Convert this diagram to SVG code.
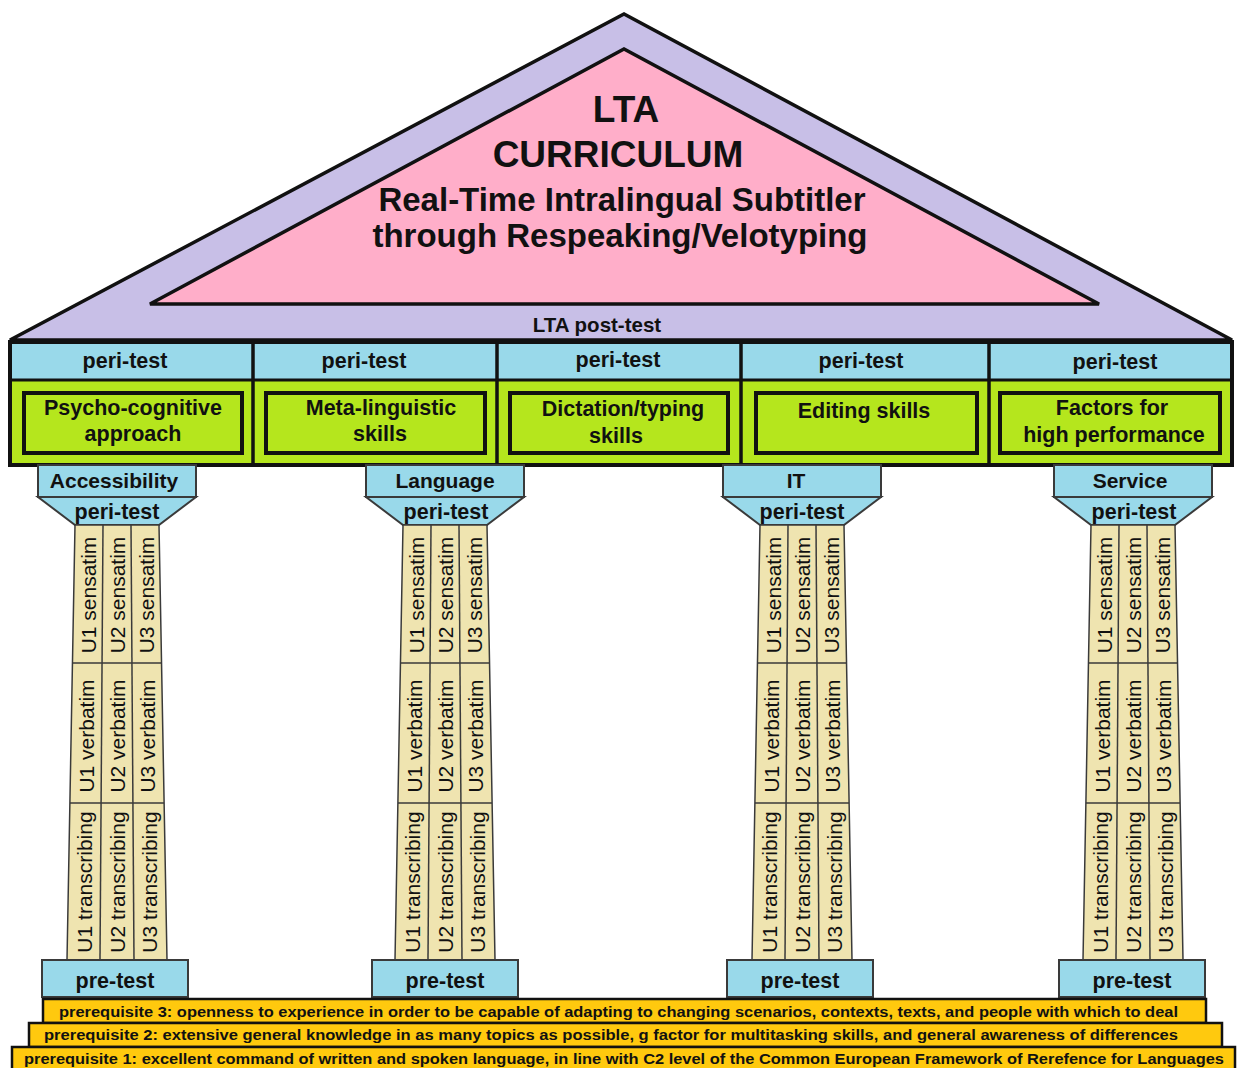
<svg xmlns="http://www.w3.org/2000/svg" width="1237" height="1068" viewBox="0 0 1237 1068">
<style>
.t{font-family:"Liberation Sans",Arial,sans-serif;fill:#111}
.b{font-weight:bold}
.mid{text-anchor:middle}
.blue{fill:#99D9EA}
.green{fill:#B5E61D}
.cream{fill:#EFE4B0;stroke:#3a3a3a;stroke-width:1.5}
.cap{fill:#99D9EA;stroke:#3a3a3a;stroke-width:2}
.gold{fill:#FFC90E;stroke:#111;stroke-width:2.5}
.div{stroke:#3a3a3a;stroke-width:1.5;fill:none}
.vt{font-family:"Liberation Sans",Arial,sans-serif;font-size:21px;fill:#111;text-anchor:middle}
.box{fill:none;stroke:#111;stroke-width:4}
</style>
<rect width="1237" height="1068" fill="#fff"/>

<g id="roof">
  <polygon points="10,340 624,14 1232,340" fill="#C8BFE7" stroke="#111" stroke-width="3.5" stroke-linejoin="miter"/>
  <polygon points="150,304 624,49 1099,304" fill="#FFAEC9" stroke="#111" stroke-width="3.5"/>
  <text class="t b mid" x="626" y="122" font-size="37">LTA</text>
  <text class="t b mid" x="618" y="167" font-size="37">CURRICULUM</text>
  <text class="t b mid" x="622" y="211" font-size="33">Real-Time Intralingual Subtitler</text>
  <text class="t b mid" x="620" y="247" font-size="33">through Respeaking/Velotyping</text>
  <text class="t b mid" x="597" y="332" font-size="20.5">LTA post-test</text>
</g>

<g id="entablature">
  <rect x="10" y="342" width="1222" height="38" class="blue"/>
  <rect x="10" y="380" width="1222" height="85" class="green"/>
  <rect x="10" y="342" width="1222" height="123" fill="none" stroke="#111" stroke-width="4"/>
  <line x1="10" y1="380" x2="1232" y2="380" stroke="#111" stroke-width="3"/>
  <g stroke="#111" stroke-width="3.5">
    <line x1="253" y1="342" x2="253" y2="465"/>
    <line x1="497" y1="342" x2="497" y2="465"/>
    <line x1="741" y1="342" x2="741" y2="465"/>
    <line x1="989" y1="342" x2="989" y2="465"/>
  </g>
</g>

<g id="skill-1">
  <text class="t b mid" x="125" y="368" font-size="21.5">peri-test</text>
  <rect x="24" y="393" width="218" height="60" class="box"/>
  <text class="t b mid" x="133" y="415" font-size="21.5">Psycho-cognitive</text>
  <text class="t b mid" x="133" y="441" font-size="21.5">approach</text>
</g>
<g id="skill-2">
  <text class="t b mid" x="364" y="368" font-size="21.5">peri-test</text>
  <rect x="266" y="393" width="219" height="60" class="box"/>
  <text class="t b mid" x="381" y="415" font-size="21.5">Meta-linguistic</text>
  <text class="t b mid" x="380" y="441" font-size="21.5">skills</text>
</g>
<g id="skill-3">
  <text class="t b mid" x="618" y="367" font-size="21.5">peri-test</text>
  <rect x="510" y="393" width="218" height="60" class="box"/>
  <text class="t b mid" x="623" y="416" font-size="21.5">Dictation/typing</text>
  <text class="t b mid" x="616" y="443" font-size="21.5">skills</text>
</g>
<g id="skill-4">
  <text class="t b mid" x="861" y="368" font-size="21.5">peri-test</text>
  <rect x="756" y="393" width="221" height="60" class="box"/>
  <text class="t b mid" x="864" y="418" font-size="21.5">Editing skills</text>
</g>
<g id="skill-5">
  <text class="t b mid" x="1115" y="369" font-size="21.5">peri-test</text>
  <rect x="1000" y="393" width="220" height="60" class="box"/>
  <text class="t b mid" x="1112" y="415" font-size="21.5">Factors for</text>
  <text class="t b mid" x="1114" y="442" font-size="21.5">high performance</text>
</g>

<g id="column-accessibility">
  <rect x="38" y="465" width="158" height="32" class="cap"/>
  <polygon points="38,497 196,497 159,525 75,525" class="cap"/>
  <text class="t b mid" x="114" y="488" font-size="21">Accessibility</text>
  <text class="t b mid" x="117" y="519" font-size="21.5">peri-test</text>
  <polygon points="75,525 159,525 167,960 67,960" class="cream"/>
  <line x1="103" y1="525" x2="100" y2="960" class="div"/>
  <line x1="131" y1="525" x2="134" y2="960" class="div"/>
  <line x1="72.5" y1="663" x2="161.5" y2="663" class="div"/>
  <line x1="70" y1="803" x2="164" y2="803" class="div"/>
  <text class="vt" x="88" y="595" dy="7.5" transform="rotate(-90 88 595)">U1 sensatim</text>
  <text class="vt" x="117" y="595" dy="7.5" transform="rotate(-90 117 595)">U2 sensatim</text>
  <text class="vt" x="146" y="595" dy="7.5" transform="rotate(-90 146 595)">U3 sensatim</text>
  <text class="vt" x="86.4" y="736" dy="7.5" transform="rotate(-90 86.4 736)">U1 verbatim</text>
  <text class="vt" x="117" y="736" dy="7.5" transform="rotate(-90 117 736)">U2 verbatim</text>
  <text class="vt" x="147.6" y="736" dy="7.5" transform="rotate(-90 147.6 736)">U3 verbatim</text>
  <text class="vt" x="84.5" y="882" dy="7.5" transform="rotate(-90 84.5 882)">U1 transcribing</text>
  <text class="vt" x="117" y="882" dy="7.5" transform="rotate(-90 117 882)">U2 transcribing</text>
  <text class="vt" x="149.5" y="882" dy="7.5" transform="rotate(-90 149.5 882)">U3 transcribing</text>
  <rect x="42" y="960" width="146" height="37" class="cap"/>
  <text class="t b mid" x="115" y="988" font-size="21.5">pre-test</text>
</g>

<g id="column-language">
  <rect x="366" y="465" width="158" height="32" class="cap"/>
  <polygon points="366,497 524,497 487,525 403,525" class="cap"/>
  <text class="t b mid" x="445" y="488" font-size="21">Language</text>
  <text class="t b mid" x="446" y="519" font-size="21.5">peri-test</text>
  <polygon points="403,525 487,525 495,960 395,960" class="cream"/>
  <line x1="431" y1="525" x2="428" y2="960" class="div"/>
  <line x1="459" y1="525" x2="462" y2="960" class="div"/>
  <line x1="400.5" y1="663" x2="489.5" y2="663" class="div"/>
  <line x1="398" y1="803" x2="492" y2="803" class="div"/>
  <text class="vt" x="416" y="595" dy="7.5" transform="rotate(-90 416 595)">U1 sensatim</text>
  <text class="vt" x="445" y="595" dy="7.5" transform="rotate(-90 445 595)">U2 sensatim</text>
  <text class="vt" x="474" y="595" dy="7.5" transform="rotate(-90 474 595)">U3 sensatim</text>
  <text class="vt" x="414.4" y="736" dy="7.5" transform="rotate(-90 414.4 736)">U1 verbatim</text>
  <text class="vt" x="445" y="736" dy="7.5" transform="rotate(-90 445 736)">U2 verbatim</text>
  <text class="vt" x="475.6" y="736" dy="7.5" transform="rotate(-90 475.6 736)">U3 verbatim</text>
  <text class="vt" x="412.5" y="882" dy="7.5" transform="rotate(-90 412.5 882)">U1 transcribing</text>
  <text class="vt" x="445" y="882" dy="7.5" transform="rotate(-90 445 882)">U2 transcribing</text>
  <text class="vt" x="477.5" y="882" dy="7.5" transform="rotate(-90 477.5 882)">U3 transcribing</text>
  <rect x="372" y="960" width="146" height="37" class="cap"/>
  <text class="t b mid" x="445" y="988" font-size="21.5">pre-test</text>
</g>

<g id="column-it">
  <rect x="723" y="465" width="158" height="32" class="cap"/>
  <polygon points="723,497 881,497 844,525 760,525" class="cap"/>
  <text class="t b mid" x="796" y="488" font-size="21">IT</text>
  <text class="t b mid" x="802" y="519" font-size="21.5">peri-test</text>
  <polygon points="760,525 844,525 852,960 752,960" class="cream"/>
  <line x1="788" y1="525" x2="785" y2="960" class="div"/>
  <line x1="816" y1="525" x2="819" y2="960" class="div"/>
  <line x1="757.5" y1="663" x2="846.5" y2="663" class="div"/>
  <line x1="755" y1="803" x2="849" y2="803" class="div"/>
  <text class="vt" x="773" y="595" dy="7.5" transform="rotate(-90 773 595)">U1 sensatim</text>
  <text class="vt" x="802" y="595" dy="7.5" transform="rotate(-90 802 595)">U2 sensatim</text>
  <text class="vt" x="831" y="595" dy="7.5" transform="rotate(-90 831 595)">U3 sensatim</text>
  <text class="vt" x="771.4" y="736" dy="7.5" transform="rotate(-90 771.4 736)">U1 verbatim</text>
  <text class="vt" x="802" y="736" dy="7.5" transform="rotate(-90 802 736)">U2 verbatim</text>
  <text class="vt" x="832.6" y="736" dy="7.5" transform="rotate(-90 832.6 736)">U3 verbatim</text>
  <text class="vt" x="769.5" y="882" dy="7.5" transform="rotate(-90 769.5 882)">U1 transcribing</text>
  <text class="vt" x="802" y="882" dy="7.5" transform="rotate(-90 802 882)">U2 transcribing</text>
  <text class="vt" x="834.5" y="882" dy="7.5" transform="rotate(-90 834.5 882)">U3 transcribing</text>
  <rect x="727" y="960" width="146" height="37" class="cap"/>
  <text class="t b mid" x="800" y="988" font-size="21.5">pre-test</text>
</g>

<g id="column-service">
  <rect x="1054" y="465" width="158" height="32" class="cap"/>
  <polygon points="1054,497 1212,497 1175,525 1091,525" class="cap"/>
  <text class="t b mid" x="1130" y="488" font-size="21">Service</text>
  <text class="t b mid" x="1134" y="519" font-size="21.5">peri-test</text>
  <polygon points="1091,525 1175,525 1183,960 1083,960" class="cream"/>
  <line x1="1119" y1="525" x2="1116" y2="960" class="div"/>
  <line x1="1147" y1="525" x2="1150" y2="960" class="div"/>
  <line x1="1088.5" y1="663" x2="1177.5" y2="663" class="div"/>
  <line x1="1086" y1="803" x2="1180" y2="803" class="div"/>
  <text class="vt" x="1104" y="595" dy="7.5" transform="rotate(-90 1104 595)">U1 sensatim</text>
  <text class="vt" x="1133" y="595" dy="7.5" transform="rotate(-90 1133 595)">U2 sensatim</text>
  <text class="vt" x="1162" y="595" dy="7.5" transform="rotate(-90 1162 595)">U3 sensatim</text>
  <text class="vt" x="1102.4" y="736" dy="7.5" transform="rotate(-90 1102.4 736)">U1 verbatim</text>
  <text class="vt" x="1133" y="736" dy="7.5" transform="rotate(-90 1133 736)">U2 verbatim</text>
  <text class="vt" x="1163.6" y="736" dy="7.5" transform="rotate(-90 1163.6 736)">U3 verbatim</text>
  <text class="vt" x="1100.5" y="882" dy="7.5" transform="rotate(-90 1100.5 882)">U1 transcribing</text>
  <text class="vt" x="1133" y="882" dy="7.5" transform="rotate(-90 1133 882)">U2 transcribing</text>
  <text class="vt" x="1165.5" y="882" dy="7.5" transform="rotate(-90 1165.5 882)">U3 transcribing</text>
  <rect x="1059" y="960" width="146" height="37" class="cap"/>
  <text class="t b mid" x="1132" y="988" font-size="21.5">pre-test</text>
</g>

<g id="prerequisite-3">
  <rect x="43" y="999" width="1163" height="24" class="gold"/>
  <text class="t b" x="59" y="1017" font-size="14" textLength="1119" lengthAdjust="spacingAndGlyphs">prerequisite 3: openness to experience in order to be capable of adapting to changing scenarios, contexts, texts, and people with which to deal</text>
</g>
<g id="prerequisite-2">
  <rect x="29" y="1023" width="1193" height="24" class="gold"/>
  <text class="t b" x="44" y="1040" font-size="14" textLength="1134" lengthAdjust="spacingAndGlyphs">prerequisite 2: extensive general knowledge in as many topics as possible, g factor for multitasking skills, and general awareness of differences</text>
</g>
<g id="prerequisite-1">
  <rect x="12" y="1047" width="1223" height="24" class="gold"/>
  <text class="t b" x="24" y="1064" font-size="14" textLength="1200" lengthAdjust="spacingAndGlyphs">prerequisite 1: excellent command of written and spoken language, in line with C2 level of the Common European Framework of Rerefence for Languages</text>
</g>

<g id="connectors"></g>
</svg>
